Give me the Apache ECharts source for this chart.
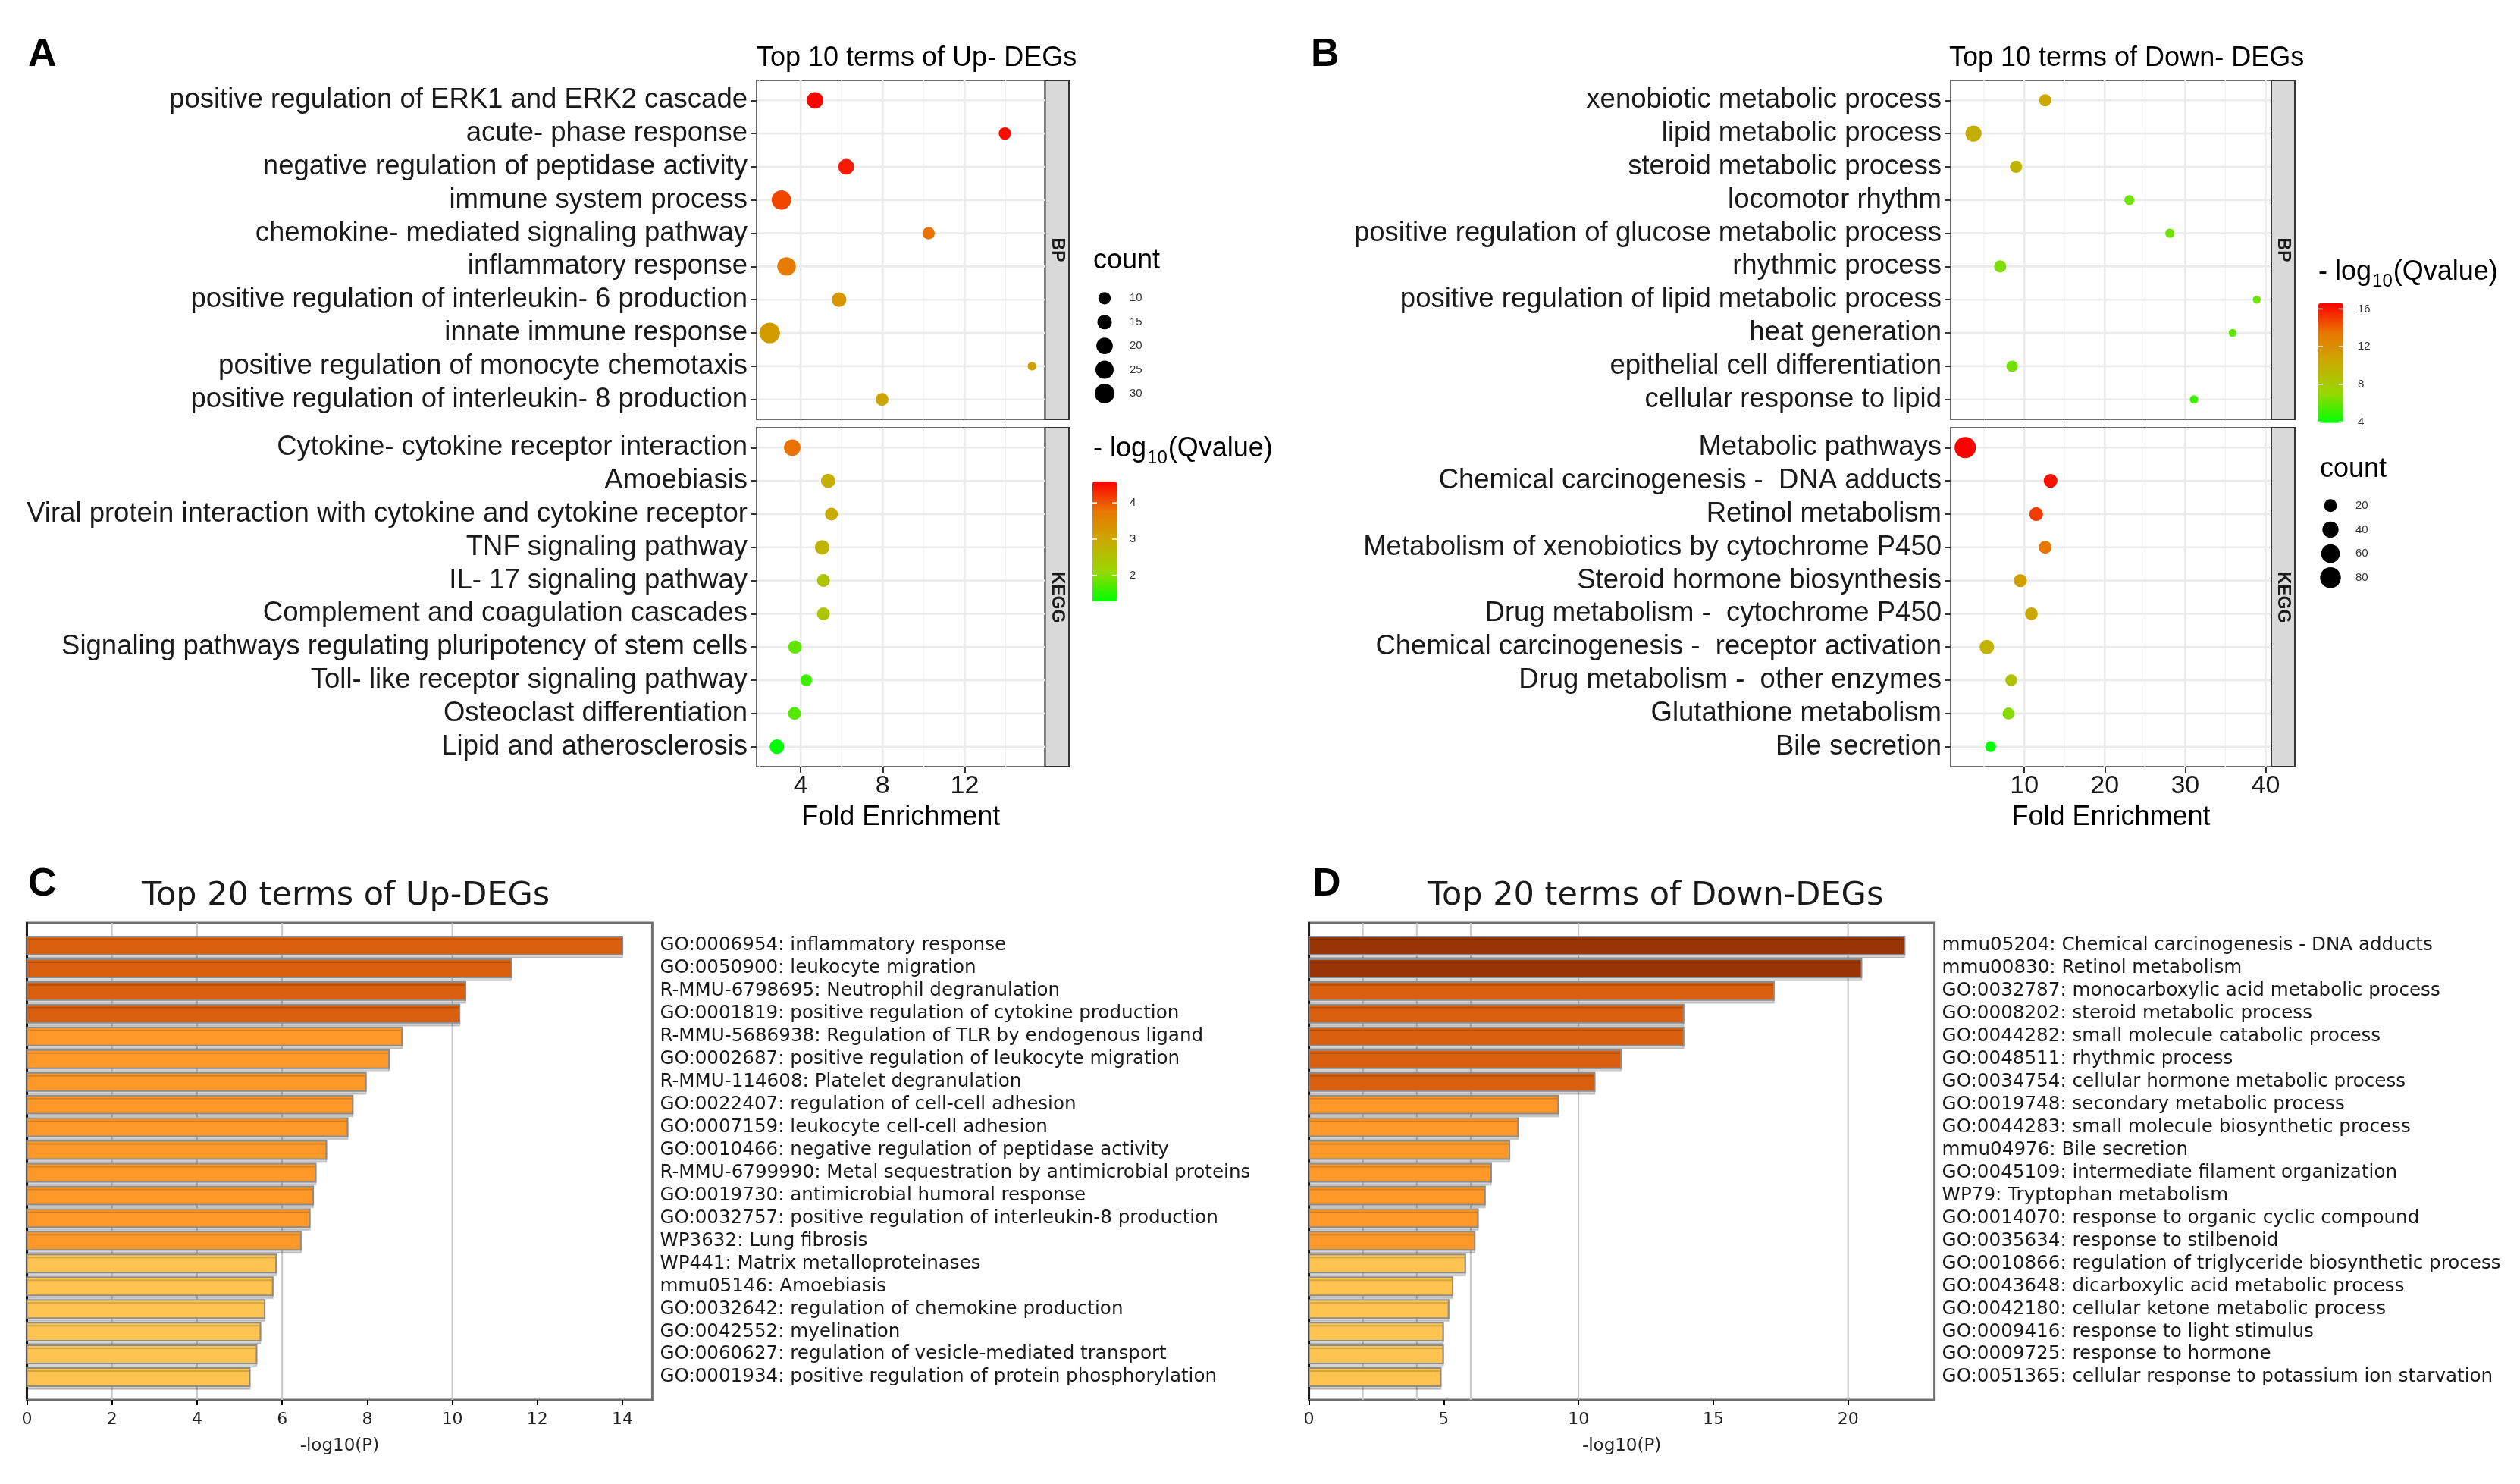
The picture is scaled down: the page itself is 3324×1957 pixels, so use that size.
<!DOCTYPE html>
<html>
<head>
<meta charset="utf-8">
<title>Enrichment of Up- and Down-DEGs</title>
<script src="https://cdn.jsdelivr.net/npm/echarts@6/dist/echarts.min.js"></script>
<style>
  html, body { margin: 0; padding: 0; background: #fff; }
  #chart { width: 3324px; height: 1957px; }
</style>
</head>
<body>
<div id="chart"></div>
<script>
// ---- panel A: top 10 terms of Up-DEGs (dot plot) ----
const UP_BP_TERMS = [
  'positive regulation of ERK1 and ERK2 cascade',
  'acute- phase response',
  'negative regulation of peptidase activity',
  'immune system process',
  'chemokine- mediated signaling pathway',
  'inflammatory response',
  'positive regulation of interleukin- 6 production',
  'innate immune response',
  'positive regulation of monocyte chemotaxis',
  'positive regulation of interleukin- 8 production'
];
const UP_BP_FOLD = [4.70, 13.96, 6.22, 3.06, 10.24, 3.31, 5.87, 2.49, 15.28, 7.97];
const UP_BP_COUNT = [20, 10, 18, 29, 10, 26, 15, 33, 4, 11];
const UP_BP_Q = [4.59, 4.50, 4.42, 4.10, 3.80, 3.70, 3.27, 3.17, 3.10, 3.03];

const UP_KEGG_TERMS = [
  'Cytokine- cytokine receptor interaction',
  'Amoebiasis',
  'Viral protein interaction with cytokine and cytokine receptor',
  'TNF signaling pathway',
  'IL- 17 signaling pathway',
  'Complement and coagulation cascades',
  'Signaling pathways regulating pluripotency of stem cells',
  'Toll- like receptor signaling pathway',
  'Osteoclast differentiation',
  'Lipid and atherosclerosis'
];
const UP_KEGG_FOLD = [3.59, 5.34, 5.50, 5.05, 5.11, 5.11, 3.72, 4.27, 3.70, 2.84];
const UP_KEGG_COUNT = [20, 14, 11, 15, 11, 11, 12, 9, 11, 15];
const UP_KEGG_Q = [3.80, 2.84, 2.94, 2.77, 2.44, 2.44, 1.81, 1.61, 1.74, 1.28];

const A_XTICKS = [4, 8, 12];
const A_COUNT_BREAKS = [10, 15, 20, 25, 30];
const A_Q_BREAKS = [2, 3, 4];

// ---- panel B: top 10 terms of Down-DEGs (dot plot) ----
const DOWN_BP_TERMS = [
  'xenobiotic metabolic process',
  'lipid metabolic process',
  'steroid metabolic process',
  'locomotor rhythm',
  'positive regulation of glucose metabolic process',
  'rhythmic process',
  'positive regulation of lipid metabolic process',
  'heat generation',
  'epithelial cell differentiation',
  'cellular response to lipid'
];
const DOWN_BP_FOLD = [12.6, 3.68, 8.97, 23.05, 28.1, 7.0, 38.9, 35.9, 8.47, 31.1];
const DOWN_BP_COUNT = [17, 40, 17, 8, 6, 17, 3, 3, 13, 4];
const DOWN_BP_Q = [10.5, 10.0, 9.6, 6.2, 6.2, 6.6, 6.2, 5.9, 6.3, 5.2];

const DOWN_KEGG_TERMS = [
  'Metabolic pathways',
  'Chemical carcinogenesis -  DNA adducts',
  'Retinol metabolism',
  'Metabolism of xenobiotics by cytochrome P450',
  'Steroid hormone biosynthesis',
  'Drug metabolism -  cytochrome P450',
  'Chemical carcinogenesis -  receptor activation',
  'Drug metabolism -  other enzymes',
  'Glutathione metabolism',
  'Bile secretion'
];
const DOWN_KEGG_FOLD = [2.65, 13.26, 11.47, 12.6, 9.5, 10.88, 5.34, 8.37, 8.03, 5.8];
const DOWN_KEGG_COUNT = [85, 25, 25, 20, 21, 19, 29, 15, 15, 11];
const DOWN_KEGG_Q = [16.6, 16.2, 15.0, 13.4, 11.0, 10.5, 9.7, 8.5, 6.7, 3.9];

const B_XTICKS = [10, 20, 30, 40];
const B_COUNT_BREAKS = [20, 40, 60, 80];
const B_Q_BREAKS = [4, 8, 12, 16];

// ---- panel C: top 20 terms of Up-DEGs (bar chart) ----
const UP20_TERMS = [
  'GO:0006954: inflammatory response',
  'GO:0050900: leukocyte migration',
  'R-MMU-6798695: Neutrophil degranulation',
  'GO:0001819: positive regulation of cytokine production',
  'R-MMU-5686938: Regulation of TLR by endogenous ligand',
  'GO:0002687: positive regulation of leukocyte migration',
  'R-MMU-114608: Platelet degranulation',
  'GO:0022407: regulation of cell-cell adhesion',
  'GO:0007159: leukocyte cell-cell adhesion',
  'GO:0010466: negative regulation of peptidase activity',
  'R-MMU-6799990: Metal sequestration by antimicrobial proteins',
  'GO:0019730: antimicrobial humoral response',
  'GO:0032757: positive regulation of interleukin-8 production',
  'WP3632: Lung fibrosis',
  'WP441: Matrix metalloproteinases',
  'mmu05146: Amoebiasis',
  'GO:0032642: regulation of chemokine production',
  'GO:0042552: myelination',
  'GO:0060627: regulation of vesicle-mediated transport',
  'GO:0001934: positive regulation of protein phosphorylation'
];
const UP20_LOGP = [14.0, 11.39, 10.31, 10.17, 8.82, 8.51, 7.97, 7.66, 7.54, 7.04,
                   6.79, 6.73, 6.65, 6.44, 5.86, 5.78, 5.59, 5.49, 5.40, 5.24];
const C_XTICKS = [0, 2, 4, 6, 8, 10, 12, 14];

// ---- panel D: top 20 terms of Down-DEGs (bar chart) ----
const DOWN20_TERMS = [
  'mmu05204: Chemical carcinogenesis - DNA adducts',
  'mmu00830: Retinol metabolism',
  'GO:0032787: monocarboxylic acid metabolic process',
  'GO:0008202: steroid metabolic process',
  'GO:0044282: small molecule catabolic process',
  'GO:0048511: rhythmic process',
  'GO:0034754: cellular hormone metabolic process',
  'GO:0019748: secondary metabolic process',
  'GO:0044283: small molecule biosynthetic process',
  'mmu04976: Bile secretion',
  'GO:0045109: intermediate filament organization',
  'WP79: Tryptophan metabolism',
  'GO:0014070: response to organic cyclic compound',
  'GO:0035634: response to stilbenoid',
  'GO:0010866: regulation of triglyceride biosynthetic process',
  'GO:0043648: dicarboxylic acid metabolic process',
  'GO:0042180: cellular ketone metabolic process',
  'GO:0009416: response to light stimulus',
  'GO:0009725: response to hormone',
  'GO:0051365: cellular response to potassium ion starvation'
];
const DOWN20_LOGP = [22.1, 20.5, 17.25, 13.9, 13.9, 11.57, 10.6, 9.25, 7.76, 7.44,
                     6.76, 6.53, 6.27, 6.15, 5.80, 5.33, 5.18, 4.98, 4.98, 4.89];
const D_XTICKS = [0, 5, 10, 15, 20];

// reference lines of the bar charts, and the bar colour bins
const P_GUIDES = [2, 4, 6, 10, 20];
const P_BINS = [
  { lt: 6, color: '#FEC44F' },
  { gte: 6, lt: 10, color: '#FE9929' },
  { gte: 10, lt: 20, color: '#D95F0E' },
  { gte: 20, color: '#993404' }
];

const SANS = '"Liberation Sans", Arial, sans-serif';
const DEJAVU = '"DejaVu Sans", sans-serif';
const GRADIENT = ['#00FF00', '#98D700', '#C9AB00', '#E87700', '#FF0000'];

// ggplot-like scales
function paddedRange(values, frac) {
  const lo = Math.min(...values), hi = Math.max(...values);
  const pad = (hi - lo) * frac;
  return [lo - pad, hi + pad];
}
const sizeA = c => 16.3 + (Math.sqrt(c) - Math.sqrt(10)) * 4.19;
const sizeB = c => 10.5 + (Math.sqrt(c) - Math.sqrt(3)) * 2.357;

const A_XRANGE = paddedRange(UP_BP_FOLD.concat(UP_KEGG_FOLD), 0.05);
const B_XRANGE = paddedRange(DOWN_BP_FOLD.concat(DOWN_KEGG_FOLD), 0.05);
const A_QALL = UP_BP_Q.concat(UP_KEGG_Q);
const B_QALL = DOWN_BP_Q.concat(DOWN_KEGG_Q);
const A_QRANGE = [Math.min(...A_QALL), Math.max(...A_QALL)];
const B_QRANGE = [Math.min(...B_QALL), Math.max(...B_QALL)];

const grid = [], xAxis = [], yAxis = [], series = [], graphic = [];
const aDots = [], bDots = [], bars = [];

function drawGridLine(params, api) {
  const cs = params.coordSys;
  const p = api.coord([api.value(1), api.value(2)]);
  const major = api.value(3) === 1;
  const shape = api.value(0) === 0
    ? { x1: p[0], y1: cs.y, x2: p[0], y2: cs.y + cs.height }
    : { x1: cs.x, y1: p[1], x2: cs.x + cs.width, y2: p[1] };
  return {
    type: 'line', shape: shape,
    style: { stroke: major ? '#EBEBEB' : '#F3F3F3', lineWidth: major ? 2.6 : 1.3 }
  };
}

function dotPanel(box, terms, fold, count, q, xr, xticks, withX, sizeFn, bucket) {
  const gi = grid.length;
  grid.push({ left: box[0], top: box[1], width: box[2], height: box[3],
              show: true, borderColor: '#6b6b6b', borderWidth: 2 });
  const xi = xAxis.length;
  xAxis.push({
    type: 'value', gridIndex: gi, min: xr[0], max: xr[1],
    axisLine: { show: false, onZero: false }, splitLine: { show: false },
    axisTick: { show: withX, customValues: xticks, length: 8, lineStyle: { color: '#333', width: 2 } },
    axisLabel: { show: withX, customValues: xticks, fontSize: 34, fontFamily: SANS, color: '#1a1a1a', margin: 9 },
    name: withX ? 'Fold Enrichment' : '', nameLocation: 'middle', nameGap: 49,
    nameTextStyle: { fontSize: 36, fontFamily: SANS, color: '#000' }
  });
  const rows = terms.map((_, i) => i + 1);
  const yi = yAxis.length;
  yAxis.push({
    type: 'value', gridIndex: gi, min: 0.4, max: terms.length + 0.6, inverse: true,
    axisLine: { show: false, onZero: false }, splitLine: { show: false },
    axisTick: { customValues: rows, length: 8, lineStyle: { color: '#333', width: 2 } },
    axisLabel: { customValues: rows, formatter: v => terms[Math.round(v) - 1] || '',
                 fontSize: 36.5, fontFamily: SANS, color: '#1a1a1a', margin: 12 }
  });

  const step = xticks[1] - xticks[0];
  const minor = xticks.map(t => t - step / 2)
    .concat([xticks[xticks.length - 1] + step / 2])
    .filter(v => v > xr[0] && v < xr[1]);
  const lines = xticks.map(v => [0, v, 1, 1])
    .concat(minor.map(v => [0, v, 1, 0]))
    .concat(rows.map(r => [1, xr[0], r, 1]));
  series.push({ type: 'custom', xAxisIndex: xi, yAxisIndex: yi, silent: true, z: 1,
                data: lines, renderItem: drawGridLine });

  series.push({
    type: 'scatter', xAxisIndex: xi, yAxisIndex: yi, z: 3,
    data: terms.map((t, i) => [fold[i], i + 1, count[i], q[i]]),
    symbolSize: v => sizeFn(v[2]),
    itemStyle: { opacity: 1 }, emphasis: { disabled: true }
  });
  bucket.push(series.length - 1);
}

function barPanel(box, terms, vals, xticks) {
  const gi = grid.length;
  grid.push({ left: box[0], top: box[1], width: box[2], height: box[3],
              show: true, borderColor: '#707070', borderWidth: 3 });
  const xmax = Math.max(...vals) * 1.05;
  const xi = xAxis.length;
  xAxis.push({
    type: 'value', gridIndex: gi, min: 0, max: xmax,
    axisLine: { show: true, onZero: false, lineStyle: { color: '#707070', width: 3 } },
    splitLine: { show: false },
    axisTick: { customValues: xticks, length: 7, lineStyle: { color: '#000', width: 2 } },
    axisLabel: { customValues: xticks, fontSize: 22, fontFamily: DEJAVU, color: '#222', margin: 15 },
    name: '-log10(P)', nameLocation: 'middle', nameGap: 50,
    nameTextStyle: { fontSize: 23, fontFamily: DEJAVU, color: '#222' }
  });
  const idx = terms.map((_, i) => i);
  const yi = yAxis.length;
  yAxis.push({
    type: 'value', gridIndex: gi, position: 'right', min: -1, max: terms.length, inverse: true,
    axisLine: { show: false, onZero: false }, axisTick: { show: false }, splitLine: { show: false },
    axisLabel: { customValues: idx, formatter: v => terms[Math.round(v)] || '',
                 fontSize: 24.6, fontFamily: DEJAVU, color: '#1a1a1a', margin: 10, align: 'left' }
  });
  yAxis.push({
    type: 'value', gridIndex: gi, position: 'left', min: -1, max: terms.length, inverse: true,
    axisLine: { show: true, onZero: false, lineStyle: { color: '#000', width: 2.5 } },
    axisTick: { show: false }, axisLabel: { show: false }, splitLine: { show: false }
  });

  series.push({
    type: 'custom', xAxisIndex: xi, yAxisIndex: yi, silent: true, z: 1,
    data: P_GUIDES.filter(v => v < xmax).map(v => [0, v, 0, 1]),
    renderItem: (params, api) => {
      const cs = params.coordSys;
      const x = api.coord([api.value(1), 0])[0];
      return { type: 'line', shape: { x1: x, y1: cs.y, x2: x, y2: cs.y + cs.height },
               style: { stroke: '#c8c8c8', lineWidth: 2 } };
    }
  });
  series.push({
    type: 'custom', xAxisIndex: xi, yAxisIndex: yi, z: 3,
    data: vals.map((v, i) => [v, i]),
    renderItem: (params, api) => {
      const p0 = api.coord([0, api.value(1)]);
      const p1 = api.coord([api.value(0), api.value(1)]);
      const h = api.size([0, 1])[1] * 0.8;
      return {
        type: 'rect',
        shape: { x: p0[0], y: p0[1] - h / 2, width: p1[0] - p0[0], height: h },
        style: { fill: api.visual('color'), stroke: '#8c8c8c', lineWidth: 2,
                 shadowColor: 'rgba(0,0,0,0.16)', shadowOffsetY: 4, shadowBlur: 0 }
      };
    }
  });
  bars.push(series.length - 1);
}

dotPanel([998, 106, 380.5, 447], UP_BP_TERMS, UP_BP_FOLD, UP_BP_COUNT, UP_BP_Q, A_XRANGE, A_XTICKS, false, sizeA, aDots);
dotPanel([998, 564, 380.5, 447], UP_KEGG_TERMS, UP_KEGG_FOLD, UP_KEGG_COUNT, UP_KEGG_Q, A_XRANGE, A_XTICKS, true, sizeA, aDots);
dotPanel([2573, 106, 423, 447], DOWN_BP_TERMS, DOWN_BP_FOLD, DOWN_BP_COUNT, DOWN_BP_Q, B_XRANGE, B_XTICKS, false, sizeB, bDots);
dotPanel([2573, 564, 423, 447], DOWN_KEGG_TERMS, DOWN_KEGG_FOLD, DOWN_KEGG_COUNT, DOWN_KEGG_Q, B_XRANGE, B_XTICKS, true, sizeB, bDots);
barPanel([35.4, 1217, 825, 629], UP20_TERMS, UP20_LOGP, C_XTICKS);
barPanel([1726.6, 1217, 825, 629], DOWN20_TERMS, DOWN20_LOGP, D_XTICKS);

// ---- annotations ----
function text(x, y, str, size, opts) {
  const o = opts || {};
  graphic.push({
    type: 'text', x: x, y: y, rotation: o.rotation || 0, silent: true,
    style: {
      text: str, fontSize: size, fontFamily: o.family || SANS, fontWeight: o.weight || 'normal',
      fill: o.color || '#000', align: o.align || 'left', verticalAlign: 'middle',
      textAlign: o.align || 'left', textVerticalAlign: 'middle'
    }
  });
}

const measure = document.createElement('canvas').getContext('2d');
function widthOf(str, size) {
  measure.font = size + 'px "Liberation Sans"';
  return measure.measureText(str).width;
}

function strip(x, y, w, h, label) {
  graphic.push({ type: 'rect', silent: true, shape: { x: x, y: y, width: w, height: h },
                 style: { fill: '#D9D9D9', stroke: '#333', lineWidth: 2 } });
  text(x + w / 2, y + h / 2, label, 23, { weight: 'bold', align: 'center', color: '#1a1a1a', rotation: -Math.PI / 2 });
}

function qTitle(x, y) {
  const w1 = widthOf('- log', 36), w2 = widthOf('10', 24);
  text(x, y, '- log', 36);
  text(x + w1 + 1, y + 12, '10', 24);
  text(x + w1 + w2 + 2, y, '(Qvalue)', 36);
}

function colorbarTicks(x, top, w, h, range, breaks, labelX) {
  breaks.forEach(b => {
    const y = top + (range[1] - b) / (range[1] - range[0]) * h;
    graphic.push({ type: 'line', silent: true, z: 10, shape: { x1: x, y1: y, x2: x + 6, y2: y },
                   style: { stroke: '#fff', lineWidth: 1.5 } });
    graphic.push({ type: 'line', silent: true, z: 10, shape: { x1: x + w - 6, y1: y, x2: x + w, y2: y },
                   style: { stroke: '#fff', lineWidth: 1.5 } });
    text(labelX, y, String(b), 15, { color: '#333' });
  });
}

function sizeLegend(cx, top, step, breaks, sizeFn, labelX) {
  breaks.forEach((b, i) => {
    graphic.push({ type: 'circle', silent: true, shape: { cx: cx, cy: top + i * step, r: sizeFn(b) / 2 },
                   style: { fill: '#000' } });
    text(labelX, top + i * step, String(b), 15, { color: '#333' });
  });
}

// panel letters and titles
text(37, 73, 'A', 52, { weight: 'bold' });
text(1729, 73, 'B', 52, { weight: 'bold' });
text(37, 1167, 'C', 52, { weight: 'bold' });
text(1731, 1167, 'D', 52, { weight: 'bold' });
text(998, 77, 'Top 10 terms of Up- DEGs', 36);
text(2571, 77, 'Top 10 terms of Down- DEGs', 36);
text(187, 1182, 'Top 20 terms of Up-DEGs', 43, { family: DEJAVU, color: '#1a1a1a' });
text(1883, 1182, 'Top 20 terms of Down-DEGs', 43, { family: DEJAVU, color: '#1a1a1a' });

// facet strips
strip(1378.5, 106, 31.5, 447, 'BP');
strip(1378.5, 564, 31.5, 447, 'KEGG');
strip(2996, 106, 31, 447, 'BP');
strip(2996, 564, 31, 447, 'KEGG');

// legends of A
text(1442, 344, 'count', 36);
sizeLegend(1457, 393.3, 31.4, A_COUNT_BREAKS, sizeA, 1490);
qTitle(1442, 592);
colorbarTicks(1441, 635, 32, 158, A_QRANGE, A_Q_BREAKS, 1490);

// legends of B
qTitle(3058, 359);
colorbarTicks(3058, 400, 32.7, 157.7, B_QRANGE, B_Q_BREAKS, 3110);
text(3060, 619, 'count', 36);
sizeLegend(3074, 666.7, 31.7, B_COUNT_BREAKS, sizeB, 3107);

const option = {
  animation: false,
  backgroundColor: '#fff',
  textStyle: { fontFamily: SANS },
  grid: grid,
  xAxis: xAxis,
  yAxis: yAxis,
  visualMap: [
    {
      type: 'continuous', seriesIndex: aDots, dimension: 3,
      min: A_QRANGE[0], max: A_QRANGE[1], inRange: { color: GRADIENT },
      left: 1441, top: 635, itemWidth: 32, itemHeight: 158, padding: 0,
      calculable: false, hoverLink: false
    },
    {
      type: 'continuous', seriesIndex: bDots, dimension: 3,
      min: B_QRANGE[0], max: B_QRANGE[1], inRange: { color: GRADIENT },
      left: 3058, top: 400, itemWidth: 32.7, itemHeight: 157.7, padding: 0,
      calculable: false, hoverLink: false
    },
    {
      type: 'piecewise', seriesIndex: bars, dimension: 0, show: false, pieces: P_BINS
    }
  ],
  graphic: graphic,
  series: series
};

const chart = echarts.init(document.getElementById('chart'));
chart.setOption(option);
</script>
</body>
</html>
